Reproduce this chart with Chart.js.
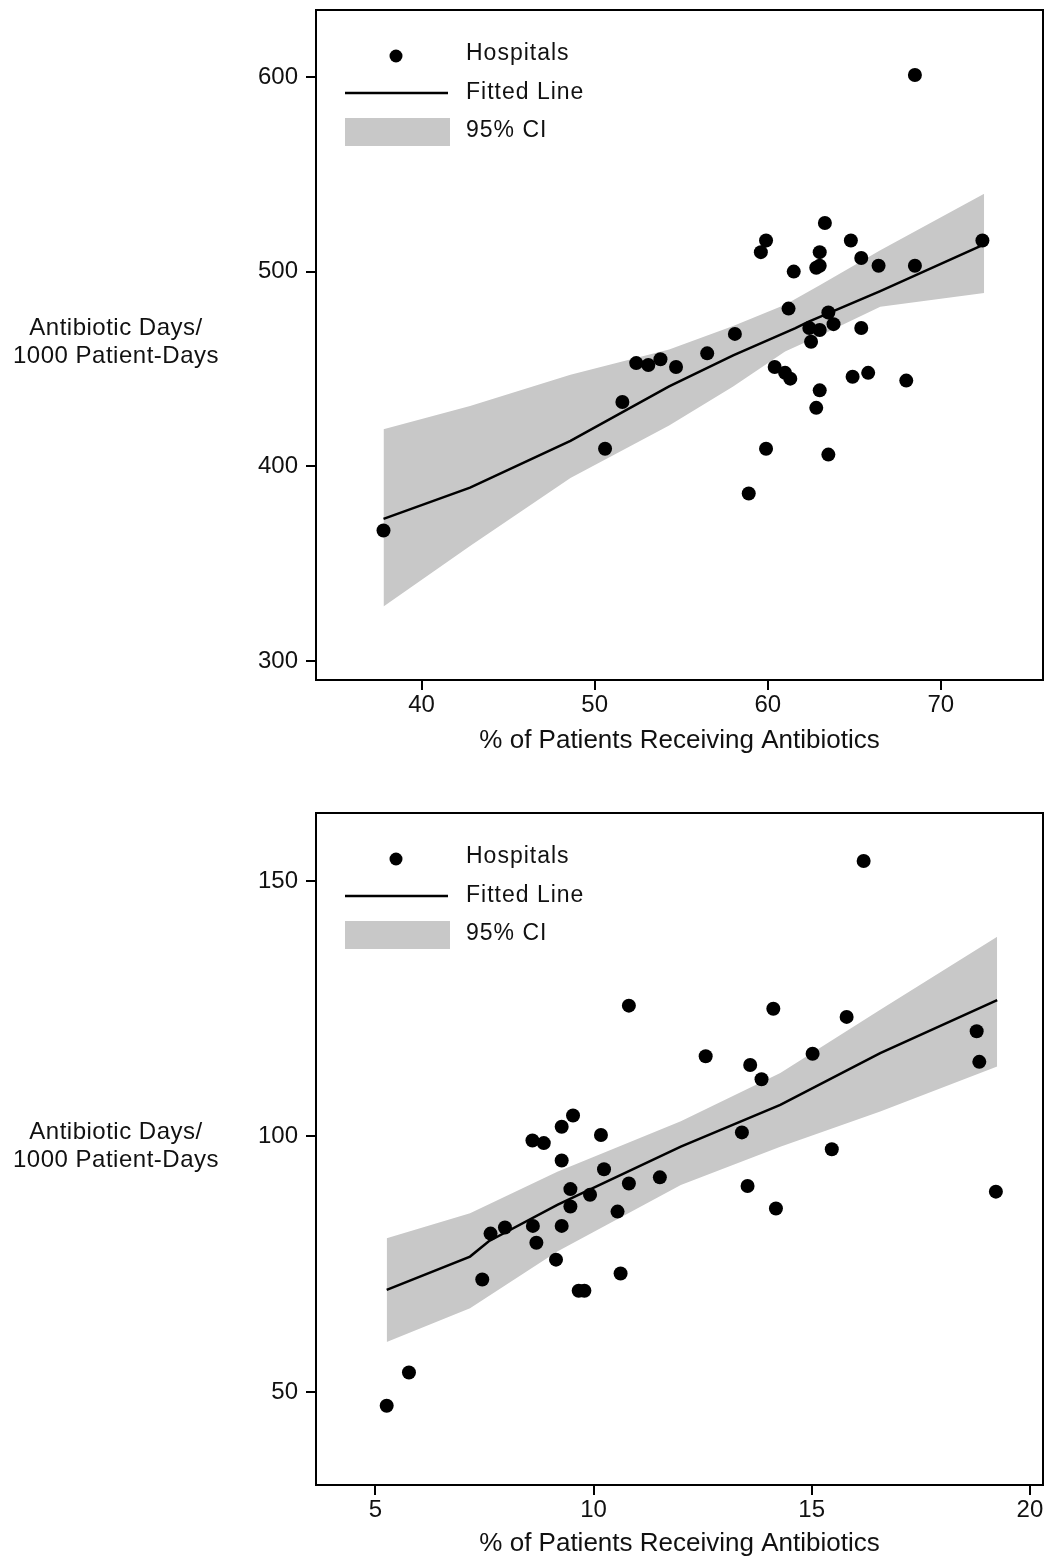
<!DOCTYPE html>
<html>
<head>
<meta charset="utf-8">
<script src="https://cdn.jsdelivr.net/npm/chart.js@4.4.1/dist/chart.umd.min.js"></script>
<style>
  body { margin: 0; background: #fff; overflow: hidden; }
  .panel { position: relative; width: 1045px; overflow: hidden; }
  canvas { display: block; }
</style>
</head>
<body>
<div class="panel" style="height:780px"><canvas id="chartTop" width="1045" height="780"></canvas></div>
<div class="panel" style="height:781px"><canvas id="chartBottom" width="1045" height="781"></canvas></div>
<script>
// --- testi comuni ---
const xTitle = '% of Patients Receiving Antibiotics';
const yTitleLines = ['Antibiotic Days/', '1000 Patient-Days'];
const legendLabels = ['Hospitals', 'Fitted Line', '95% CI'];

// --- pannello superiore ---
const topX = [37.8, 50.6, 51.6, 52.4, 53.1, 53.8, 54.7, 56.5, 58.1, 58.9,
              59.6, 59.9, 59.9, 60.4, 61.0, 61.3, 61.2, 61.5, 62.4, 62.5,
              62.8, 63.0, 63.0, 63.3, 63.0, 63.5, 63.8, 63.0, 62.8, 63.5,
              64.8, 65.4, 65.4, 64.9, 65.8, 66.4, 68.0, 68.5, 68.5, 72.4];
const topY = [367, 409, 433, 453, 452, 455, 451, 458, 468, 386,
              510, 516, 409, 451, 448, 445, 481, 500, 471, 464,
              502, 503, 510, 525, 470, 479, 473, 439, 430, 406,
              516, 507, 471, 446, 448, 503, 444, 503, 601, 516];
const topFitX = [37.8, 42.8, 48.6, 54.3, 58.0, 61.6, 62.3, 66.5, 72.5];
const topFitY = [373, 389, 413, 441, 457, 471, 474, 490, 514];
const topCiX = [37.8, 42.8, 48.6, 54.3, 58.0, 61.0, 63.0, 66.5, 72.5];
const topCiHi = [419, 431, 447, 460, 472, 483, 493, 511, 540];
const topCiLo = [328, 359, 394, 421, 441, 459, 467, 482, 489];
const topXTicks = [40, 50, 60, 70];
const topYTicks = [300, 400, 500, 600];

// --- pannello inferiore ---
const botX = [5.26, 5.77, 7.45, 7.64, 7.97, 8.61, 8.60, 8.69, 8.86, 9.14,
              9.27, 9.27, 9.27, 9.47, 9.47, 9.53, 9.66, 9.79, 9.92, 10.17,
              10.24, 10.55, 10.62, 10.81, 10.81, 11.52, 12.57, 13.40, 13.53, 13.59,
              13.85, 14.12, 14.18, 15.02, 15.46, 15.80, 16.19, 18.78, 18.84, 19.22];
const botY = [47.3, 53.8, 72.0, 81.0, 82.2, 82.5, 99.2, 79.2, 98.7, 75.9,
              82.5, 95.3, 101.9, 86.3, 89.7, 104.1, 69.8, 69.8, 88.6, 100.3,
              93.6, 85.3, 73.2, 90.8, 125.6, 92.0, 115.7, 100.8, 90.3, 114.0,
              111.2, 125.0, 85.9, 116.2, 97.5, 123.4, 153.9, 120.6, 114.6, 89.2];
const botFitX = [5.26, 7.17, 7.6, 9.17, 12.0, 14.28, 16.57, 19.25];
const botFitY = [70.0, 76.5, 79.5, 86.6, 98.0, 106.2, 116.3, 126.7];
const botCiX = [5.26, 7.17, 9.17, 12.0, 14.28, 16.57, 19.25];
const botCiHi = [80.1, 85.0, 93.1, 103.0, 112.4, 124.8, 139.1];
const botCiLo = [59.8, 66.4, 77.5, 90.5, 98.0, 104.9, 113.7];
const botXTicks = [5, 10, 15, 20];
const botYTicks = [50, 100, 150];

const FONT = '"Liberation Sans", Arial, Helvetica, sans-serif';
const INK = '#111';
const BAND = '#c8c8c8';

Chart.defaults.font.family = FONT;
Chart.defaults.color = INK;

const zip = (xs, ys) => xs.map((x, i) => ({ x: x, y: ys[i] }));

// cornice, titolo asse y e legenda interna
const panelDecor = {
    id: 'panelDecor',
    afterDraw(chart) {
        const { ctx, chartArea: a } = chart;
        const ds = chart.data.datasets;
        ctx.save();
        ctx.strokeStyle = '#000';
        ctx.lineWidth = 2;
        ctx.strokeRect(a.left, a.top, a.right - a.left, a.bottom - a.top);

        ctx.fillStyle = INK;
        ctx.textAlign = 'center';
        ctx.textBaseline = 'middle';
        ctx.font = '24px ' + FONT;
        ctx.letterSpacing = '0.5px';
        const cy = (a.top + a.bottom) / 2 - 3;
        yTitleLines.forEach((t, i) => ctx.fillText(t, 116, cy + (i - 0.5) * 28));

        // legenda
        const lx = a.left, ly = a.top;
        ctx.fillStyle = ds[0].backgroundColor;
        ctx.beginPath();
        ctx.arc(lx + 80, ly + 46, 6.5, 0, Math.PI * 2);
        ctx.fill();
        ctx.strokeStyle = ds[1].borderColor;
        ctx.lineWidth = ds[1].borderWidth;
        ctx.beginPath();
        ctx.moveTo(lx + 29, ly + 83);
        ctx.lineTo(lx + 132, ly + 83);
        ctx.stroke();
        ctx.fillStyle = ds[3].backgroundColor;
        ctx.fillRect(lx + 29, ly + 108, 105, 28);

        ctx.fillStyle = INK;
        ctx.textAlign = 'left';
        ctx.font = '23px ' + FONT;
        ctx.letterSpacing = '1px';
        [44, 83, 121].forEach((dy, i) => ctx.fillText(legendLabels[i], lx + 150, ly + dy));
        ctx.restore();
    }
};

function makePanel(canvasId, d, box) {
    const ctx = document.getElementById(canvasId);
    return new Chart(ctx, {
        type: 'scatter',
        data: {
            datasets: [
                {
                    label: legendLabels[0],
                    data: zip(d.x, d.y),
                    backgroundColor: '#000',
                    borderWidth: 0,
                    pointRadius: 7,
                    order: 0
                },
                {
                    label: legendLabels[1],
                    type: 'line',
                    data: zip(d.fitX, d.fitY),
                    borderColor: '#000',
                    borderWidth: 2.5,
                    pointRadius: 0,
                    tension: 0,
                    fill: false,
                    order: 1
                },
                {
                    label: 'CI low',
                    type: 'line',
                    data: zip(d.ciX, d.ciLo),
                    borderColor: 'transparent',
                    borderWidth: 0,
                    pointRadius: 0,
                    fill: false,
                    order: 3
                },
                {
                    label: legendLabels[2],
                    type: 'line',
                    data: zip(d.ciX, d.ciHi),
                    borderColor: 'transparent',
                    borderWidth: 0,
                    backgroundColor: BAND,
                    pointRadius: 0,
                    fill: '-1',
                    order: 2
                }
            ]
        },
        options: {
            responsive: false,
            animation: false,
            layout: {
                autoPadding: false, // altrimenti il raggio dei punti sposta il bordo destro
                padding: { left: 0, right: 2, top: box.padTop, bottom: box.padBottom }
            },
            plugins: {
                legend: { display: false },
                tooltip: { enabled: false }
            },
            scales: {
                x: {
                    type: 'linear',
                    min: d.xMin,
                    max: d.xMax,
                    afterBuildTicks: s => { s.ticks = d.xTicks.map(v => ({ value: v })); },
                    afterFit: s => {
                        s.height = box.xAxisH;
                        s.paddingLeft = 0;
                        s.paddingRight = 0;
                    },
                    border: { display: false },
                    grid: { drawOnChartArea: false, color: '#000', lineWidth: 2, tickLength: 10 },
                    ticks: { font: { size: 24 }, padding: 1, color: INK, maxRotation: 0 },
                    title: { display: true, text: xTitle, font: { size: 26 }, padding: 0, color: INK }
                },
                y: {
                    type: 'linear',
                    min: d.yMin,
                    max: d.yMax,
                    afterBuildTicks: s => { s.ticks = d.yTicks.map(v => ({ value: v })); },
                    afterFit: s => {
                        s.width = 316;
                        s.paddingTop = 0;
                        s.paddingBottom = 0;
                    },
                    border: { display: false },
                    grid: { drawOnChartArea: false, color: '#000', lineWidth: 2, tickLength: 10 },
                    ticks: { font: { size: 24 }, padding: 8, color: INK }
                }
            }
        },
        plugins: [panelDecor]
    });
}

makePanel('chartTop', {
    x: topX, y: topY, fitX: topFitX, fitY: topFitY,
    ciX: topCiX, ciLo: topCiLo, ciHi: topCiHi,
    xTicks: topXTicks, yTicks: topYTicks,
    xMin: 33.9, xMax: 75.9, yMin: 290.2, yMax: 634.4
}, { padTop: 10, padBottom: 24, xAxisH: 76 });

makePanel('chartBottom', {
    x: botX, y: botY, fitX: botFitX, fitY: botFitY,
    ciX: botCiX, ciLo: botCiLo, ciHi: botCiHi,
    xTicks: botXTicks, yTicks: botYTicks,
    xMin: 3.64, xMax: 20.3, yMin: 31.8, yMax: 163.3
}, { padTop: 33, padBottom: 2, xAxisH: 74 });
</script>
</body>
</html>
